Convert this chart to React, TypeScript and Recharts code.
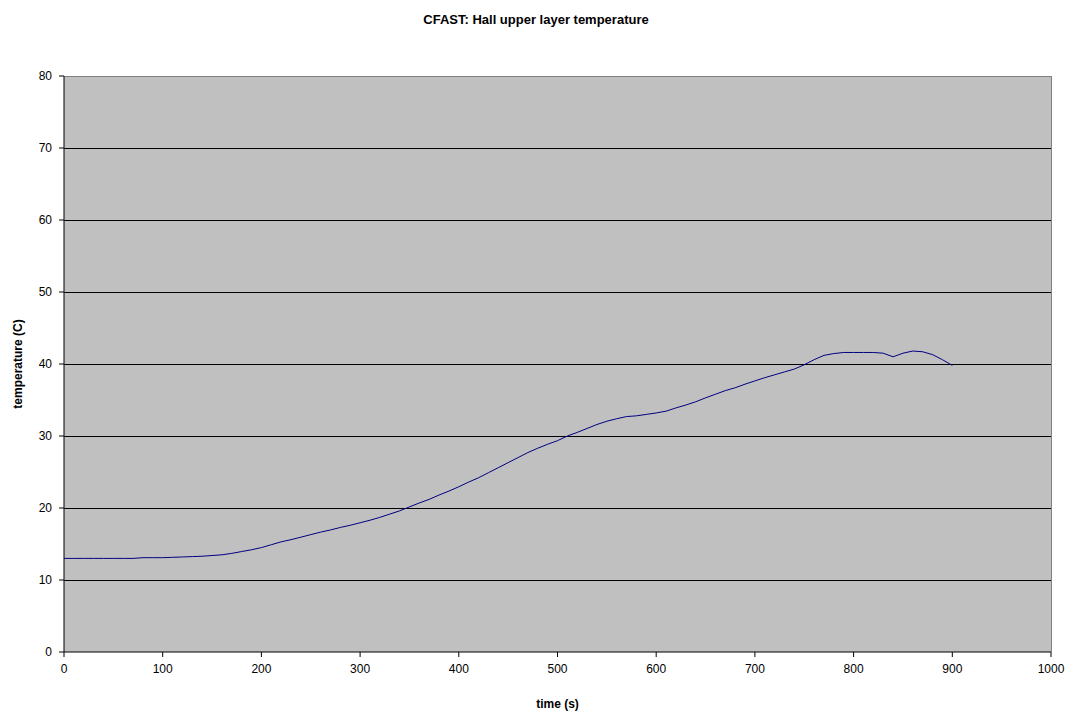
import React from "react";
import { LineChart, Line, XAxis, YAxis, CartesianGrid, ReferenceLine } from "recharts";

const times = [0,10,20,30,40,50,60,70,80,90,100,110,120,130,140,150,160,170,180,190,200,210,220,230,240,250,260,270,280,290,300,310,320,330,340,350,360,370,380,390,400,410,420,430,440,450,460,470,480,490,500,510,520,530,540,550,560,570,580,590,600,610,620,630,640,650,660,670,680,690,700,710,720,730,740,750,760,770,780,790,800,810,820,830,840,850,860,870,880,890,900];
const temps = [13.0,13.0,13.0,13.0,13.0,13.0,13.0,13.0,13.1,13.1,13.1,13.15,13.2,13.25,13.3,13.4,13.5,13.7,13.95,14.2,14.5,14.9,15.3,15.6,15.95,16.3,16.65,16.95,17.3,17.6,17.95,18.3,18.7,19.15,19.6,20.15,20.7,21.2,21.8,22.35,22.95,23.6,24.2,24.9,25.6,26.3,27.0,27.7,28.3,28.85,29.35,30.0,30.5,31.05,31.6,32.05,32.4,32.7,32.8,33.0,33.2,33.45,33.9,34.3,34.75,35.3,35.8,36.3,36.7,37.2,37.65,38.1,38.5,38.9,39.3,39.9,40.6,41.2,41.45,41.6,41.6,41.6,41.6,41.5,41.0,41.5,41.8,41.7,41.3,40.6,39.8];
const xTicks = [0,100,200,300,400,500,600,700,800,900,1000];
const yTicks = [0,10,20,30,40,50,60,70,80];
const gridValues = [10,20,30,40,50,60,70];

const data = times.map((t, i) => ({ t, v: temps[i] }));
const font = "'Liberation Sans', Arial, sans-serif";

export default function App() {
  return (
    <div style={{ position: "absolute", left: 0, top: 0, width: 1072, height: 716, background: "#fff", fontFamily: font }}>
      <div style={{ position: "absolute", top: 12, left: 0, width: 1072, textAlign: "center", fontWeight: "bold", fontSize: 13, color: "#000" }}>
        CFAST: Hall upper layer temperature
      </div>
      <LineChart width={1072} height={716} data={data} margin={{ top: 76, right: 21, bottom: 0, left: 24 }}>
        <CartesianGrid vertical={false} horizontalValues={gridValues} stroke="#000" strokeWidth={1} fill="#C0C0C0" fillOpacity={1} shapeRendering="crispEdges" />
        <XAxis
          dataKey="t"
          type="number"
          domain={[0, 1000]}
          ticks={xTicks}
          interval={0}
          height={64}
          tickSize={5}
          tickMargin={7}
          stroke="#000"
          tick={{ fill: "#000", fontSize: 12, fontFamily: font }}
          label={{ value: "time (s)", position: "insideBottom", offset: 8, fill: "#000", fontSize: 12, fontWeight: "bold", fontFamily: font }}
        />
        <YAxis
          type="number"
          domain={[0, 80]}
          ticks={yTicks}
          interval={0}
          width={40}
          tickSize={5}
          tickMargin={7}
          stroke="#000"
          tick={{ fill: "#000", fontSize: 12, fontFamily: font }}
          label={{ value: "temperature (C)", angle: -90, position: "insideLeft", offset: -6, fill: "#000", fontSize: 12, fontWeight: "bold", fontFamily: font, style: { textAnchor: "middle" } }}
        />
        <ReferenceLine y={80} stroke="#808080" shapeRendering="crispEdges" />
        <ReferenceLine x={1000} stroke="#808080" shapeRendering="crispEdges" />
        <Line dataKey="v" stroke="#000080" strokeWidth={1} dot={false} isAnimationActive={false} type="linear" />
      </LineChart>
    </div>
  );
}
